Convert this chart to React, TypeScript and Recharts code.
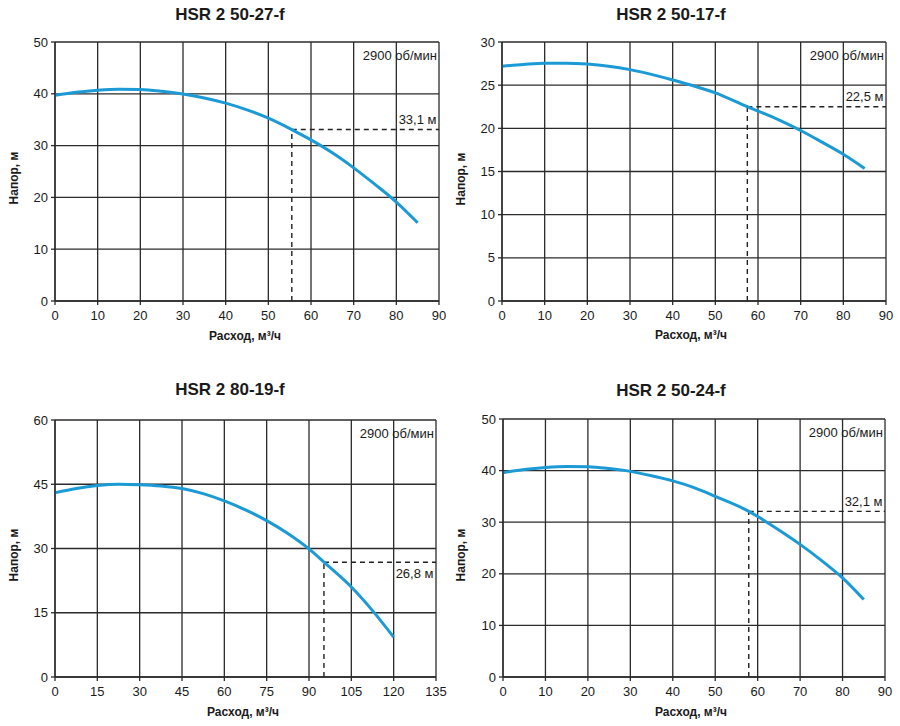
import React from 'react';
import { LineChart, Line, XAxis, YAxis, CartesianGrid, ReferenceLine } from 'recharts';

// ---- Data ----
const titles = ['HSR 2 50-27-f', 'HSR 2 50-17-f', 'HSR 2 80-19-f', 'HSR 2 50-24-f'];
const speedLabel = '2900 об/мин';
const xAxisTitle = 'Расход, м³/ч';
const yAxisTitle = 'Напор, м';

const q1 = [0, 5, 10, 15, 20, 25, 30, 35, 40, 45, 50, 55.5, 60, 65, 70, 75, 80, 85];
const h1 = [39.7, 40.3, 40.7, 40.9, 40.85, 40.5, 39.95, 39.2, 38.2, 36.9, 35.3, 33.1, 31.1, 28.6, 25.7, 22.5, 19.1, 15.1];

const q2 = [0, 5, 10, 15, 20, 25, 30, 35, 40, 45, 50, 57.5, 60, 65, 70, 75, 80, 85];
const h2 = [27.2, 27.4, 27.55, 27.55, 27.45, 27.2, 26.8, 26.25, 25.6, 24.9, 24.1, 22.5, 22.0, 20.95, 19.75, 18.4, 17.0, 15.35];

const q3 = [0, 7.5, 15, 22.5, 30, 37.5, 45, 52.5, 60, 67.5, 75, 82.5, 90, 95.3, 105, 112.5, 120];
const h3 = [43.0, 44.0, 44.7, 45.0, 44.9, 44.6, 44.0, 42.8, 41.1, 39.0, 36.5, 33.5, 29.9, 26.8, 21.0, 15.5, 9.3];

const q4 = [0, 5, 10, 15, 20, 25, 30, 35, 40, 45, 50, 57.9, 60, 65, 70, 75, 80, 85];
const h4 = [39.6, 40.2, 40.6, 40.8, 40.75, 40.4, 39.85, 39.0, 38.0, 36.7, 35.0, 32.1, 31.1, 28.5, 25.7, 22.6, 19.2, 15.0];

const xTicks90 = [0, 10, 20, 30, 40, 50, 60, 70, 80, 90];
const xTicks135 = [0, 15, 30, 45, 60, 75, 90, 105, 120, 135];
const yTicks50 = [0, 10, 20, 30, 40, 50];
const yTicks30 = [0, 5, 10, 15, 20, 25, 30];
const yTicks60 = [0, 15, 30, 45, 60];

// operating points: [flow, head, label]
const opFlow = [55.5, 57.5, 95.3, 57.9];
const opHead = [33.1, 22.5, 26.8, 32.1];
const opLabels = ['33,1 м', '22,5 м', '26,8 м', '32,1 м'];

const toRows = (q: number[], h: number[]) => q.map((v, i) => ({ q: v, h: h[i] }));

const FONT = '"Liberation Sans", Arial, Helvetica, sans-serif';
const GRID = '#2b2b2b';
const CURVE = '#1b9ad6';

const textLabel = (text: string, dxRight: number, dy: number) => (props: any) => {
  const vb = props.viewBox || {};
  const x = (vb.x || 0) + (vb.width || 0) - dxRight;
  const y = (vb.y || 0) + dy;
  return (
    <text x={x} y={y} textAnchor="end" fontFamily={FONT} fontSize={13} fill="#1a1a1a">
      {text}
    </text>
  );
};

type PanelProps = {
  idx: number;
  left: number;
  top: number;
  rows: { q: number; h: number }[];
  xTicks: number[];
  yTicks: number[];
  margin: { top: number; right: number; left: number; bottom: number };
  opLabelDy: number;
  titleX: number;
  titleY: number;
  xTitleX: number;
  xTitleY: number;
  yTitleX: number;
  yTitleY: number;
};

const Panel = (p: PanelProps) => {
  const xMax = p.xTicks[p.xTicks.length - 1];
  const yMax = p.yTicks[p.yTicks.length - 1];
  const qx = opFlow[p.idx];
  const hy = opHead[p.idx];
  return (
    <>
      <div style={{ position: 'absolute', left: p.left, top: p.top }}>
        <LineChart width={450} height={363} data={p.rows} margin={p.margin}>
          <CartesianGrid stroke={GRID} strokeWidth={1.3} />
          <XAxis
            type="number"
            dataKey="q"
            domain={[0, xMax]}
            ticks={p.xTicks}
            interval={0}
            height={30}
            tickSize={4}
            tickMargin={6}
            stroke={GRID}
            strokeWidth={1.3}
            tick={{ fill: '#1a1a1a', fontSize: 13, fontFamily: FONT }}
            allowDataOverflow
          />
          <YAxis
            type="number"
            domain={[0, yMax]}
            ticks={p.yTicks}
            interval={0}
            width={40}
            tickSize={4}
            tickMargin={3}
            stroke={GRID}
            strokeWidth={1.3}
            tick={{ fill: '#1a1a1a', fontSize: 13, fontFamily: FONT }}
            allowDataOverflow
          />
          <ReferenceLine y={yMax} stroke="none" label={textLabel(speedLabel, 2, 17.5)} />
          <ReferenceLine
            segment={[{ x: qx, y: 0 }, { x: qx, y: hy }]}
            stroke="#222"
            strokeWidth={1.4}
            strokeDasharray="5 4"
          />
          <ReferenceLine
            segment={[{ x: qx, y: hy }, { x: xMax, y: hy }]}
            stroke="#222"
            strokeWidth={1.4}
            strokeDasharray="5 4"
            label={textLabel(opLabels[p.idx], 2.5, p.opLabelDy)}
          />
          <Line
            type="monotone"
            dataKey="h"
            stroke={CURVE}
            strokeWidth={3}
            dot={false}
            isAnimationActive={false}
          />
        </LineChart>
      </div>
      <div
        style={{
          position: 'absolute',
          left: p.titleX - 150,
          top: p.titleY - 10,
          width: 300,
          height: 20,
          lineHeight: '20px',
          textAlign: 'center',
          fontFamily: FONT,
          fontWeight: 'bold',
          fontSize: 17,
          color: '#1a1a1a',
        }}
      >
        {titles[p.idx]}
      </div>
      <div
        style={{
          position: 'absolute',
          left: p.xTitleX - 100,
          top: p.xTitleY - 8,
          width: 200,
          height: 16,
          lineHeight: '16px',
          textAlign: 'center',
          fontFamily: FONT,
          fontWeight: 'bold',
          fontSize: 12,
          color: '#1a1a1a',
        }}
      >
        {xAxisTitle}
      </div>
      <div
        style={{
          position: 'absolute',
          left: p.yTitleX - 50,
          top: p.yTitleY - 8,
          width: 100,
          height: 16,
          lineHeight: '16px',
          textAlign: 'center',
          fontFamily: FONT,
          fontWeight: 'bold',
          fontSize: 12,
          color: '#1a1a1a',
          transform: 'rotate(-90deg)',
        }}
      >
        {yAxisTitle}
      </div>
    </>
  );
};

export default function App() {
  return (
    <div
      style={{
        position: 'absolute',
        left: 0,
        top: 0,
        width: 900,
        height: 726,
        background: '#fff',
        overflow: 'hidden',
      }}
    >
      <Panel
        idx={0}
        left={0}
        top={0}
        rows={toRows(q1, h1)}
        xTicks={xTicks90}
        yTicks={yTicks50}
        margin={{ top: 42, right: 11, left: 15, bottom: 32 }}
        opLabelDy={-6}
        titleX={230}
        titleY={15}
        xTitleX={245}
        xTitleY={336}
        yTitleX={14}
        yTitleY={178}
      />
      <Panel
        idx={1}
        left={450}
        top={0}
        rows={toRows(q2, h2)}
        xTicks={xTicks90}
        yTicks={yTicks30}
        margin={{ top: 42, right: 14, left: 12, bottom: 32 }}
        opLabelDy={-6}
        titleX={671}
        titleY={15}
        xTitleX={691}
        xTitleY={335}
        yTitleX={461}
        yTitleY={179}
      />
      <Panel
        idx={2}
        left={0}
        top={363}
        rows={toRows(q3, h3)}
        xTicks={xTicks135}
        yTicks={yTicks60}
        margin={{ top: 57, right: 14, left: 15, bottom: 19 }}
        opLabelDy={15.6}
        titleX={230}
        titleY={390}
        xTitleX={243}
        xTitleY={712}
        yTitleX={14}
        yTitleY={555}
      />
      <Panel
        idx={3}
        left={450}
        top={363}
        rows={toRows(q4, h4)}
        xTicks={xTicks90}
        yTicks={yTicks50}
        margin={{ top: 56, right: 15, left: 13, bottom: 19 }}
        opLabelDy={-5.3}
        titleX={671}
        titleY={391}
        xTitleX={691}
        xTitleY={712}
        yTitleX={461}
        yTitleY={555}
      />
    </div>
  );
}
